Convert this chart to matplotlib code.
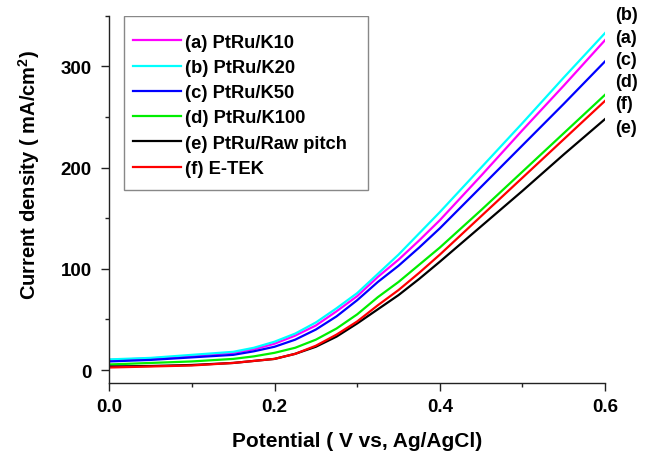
import numpy as np
import matplotlib
matplotlib.use('Agg')
import matplotlib.pyplot as plt
from matplotlib.ticker import MultipleLocator
from matplotlib.patches import Rectangle

plt.rcParams['font.family'] = ['Liberation Sans', 'DejaVu Sans']
plt.rcParams['font.weight'] = 'bold'
plt.rcParams['mathtext.fontset'] = 'custom'
plt.rcParams['mathtext.bf'] = 'Liberation Sans:bold'

# potential (V vs Ag/AgCl)
potential = [0.0, 0.05, 0.1, 0.15, 0.175, 0.2, 0.225, 0.25, 0.275, 0.3,
             0.325, 0.35, 0.375, 0.4, 0.45, 0.5, 0.55, 0.6]

# current density (mA/cm2)
k10 = [10, 11.5, 14, 17, 20.5, 26, 34, 44, 58, 73, 92, 109, 128, 148, 192, 237, 281, 326]
k20 = [10.5, 12, 15, 18, 22, 28, 36, 47, 61, 76, 95, 114, 135, 156, 200, 244, 289, 333]
k50 = [8.5, 10, 12.5, 15, 18.5, 23, 30, 40, 53, 69, 87, 103, 121, 140, 181, 222, 263, 305]
k100 = [5.5, 7, 8.5, 11, 13.5, 17, 22, 30, 41, 55, 72, 87, 104, 121, 158, 196, 234, 272]
raw_pitch = [3.5, 4, 5, 7, 9, 11, 16, 23, 33, 46, 60, 74, 90, 107, 142, 177, 213, 248]
etek = [2.5, 3.5, 4.5, 7, 9, 11, 16, 24, 35, 48, 64, 79, 96, 114, 152, 190, 228, 266]

series = [
    ('(a) PtRu/K10', k10, '#ff00ff'),
    ('(b) PtRu/K20', k20, '#00ffff'),
    ('(c) PtRu/K50', k50, '#0000ff'),
    ('(d) PtRu/K100', k100, '#00ee00'),
    ('(e) PtRu/Raw pitch', raw_pitch, '#000000'),
    ('(f) E-TEK', etek, '#ff0000'),
]

# end labels on the right, top to bottom
end_labels = ['(b)', '(a)', '(c)', '(d)', '(f)', '(e)']
end_label_y = [351, 328, 306.5, 285, 263, 240]

fig = plt.figure(figsize=(6.5, 4.52), dpi=100)
ax = fig.add_axes([0.168, 0.150, 0.763, 0.813])

for name, vals, col in series:
    ax.plot(potential, vals, color=col, lw=1.6, label=name)

ax.set_xlim(0, 0.6)
ax.set_ylim(-13, 350)
ax.xaxis.set_major_locator(MultipleLocator(0.2))
ax.xaxis.set_minor_locator(MultipleLocator(0.1))
ax.yaxis.set_major_locator(MultipleLocator(100))
ax.yaxis.set_minor_locator(MultipleLocator(50))
ax.xaxis.set_major_formatter(plt.FuncFormatter(lambda v, p: '%.1f' % v))

ax.spines['top'].set_visible(False)
ax.spines['right'].set_visible(False)
for s in ['left', 'bottom']:
    ax.spines[s].set_color('#222222')
    ax.spines[s].set_linewidth(1.0)
ax.tick_params(which='major', direction='out', length=5.5, width=1,
               labelsize=13.5, color='#222222', pad=7)
ax.tick_params(which='minor', direction='out', length=3, width=1, color='#222222')
ax.tick_params(axis='x', which='major', pad=5)

ax.set_xlabel('Potential ( V vs, Ag/AgCl)', fontsize=15, fontweight='bold', labelpad=12)
ax.set_ylabel('Current density ( mA/cm$^\\mathbf{2}$)', fontsize=14.5,
              fontweight='bold')
ax.yaxis.set_label_coords(-0.135, 0.569)

for lab, yv in zip(end_labels, end_label_y):
    ax.text(1.02, yv, lab, transform=ax.get_yaxis_transform(), fontsize=13,
            fontweight='bold', ha='left', va='center', clip_on=False)

# legend box drawn separately so its padding can match
ax.add_patch(Rectangle((0.0297, 0.5263), 0.4922, 0.4737, transform=ax.transAxes,
                       facecolor='white', edgecolor='#888888', lw=1.0, zorder=4))
leg = ax.legend(loc='upper left', bbox_to_anchor=(0.0478, 0.951), borderaxespad=0,
                prop={'size': 13.2, 'weight': 'bold'}, handlelength=2.62,
                handletextpad=0.2, labelspacing=0.45, borderpad=0,
                frameon=False)
leg.set_zorder(5)

fig.savefig('out.png', dpi=100)
